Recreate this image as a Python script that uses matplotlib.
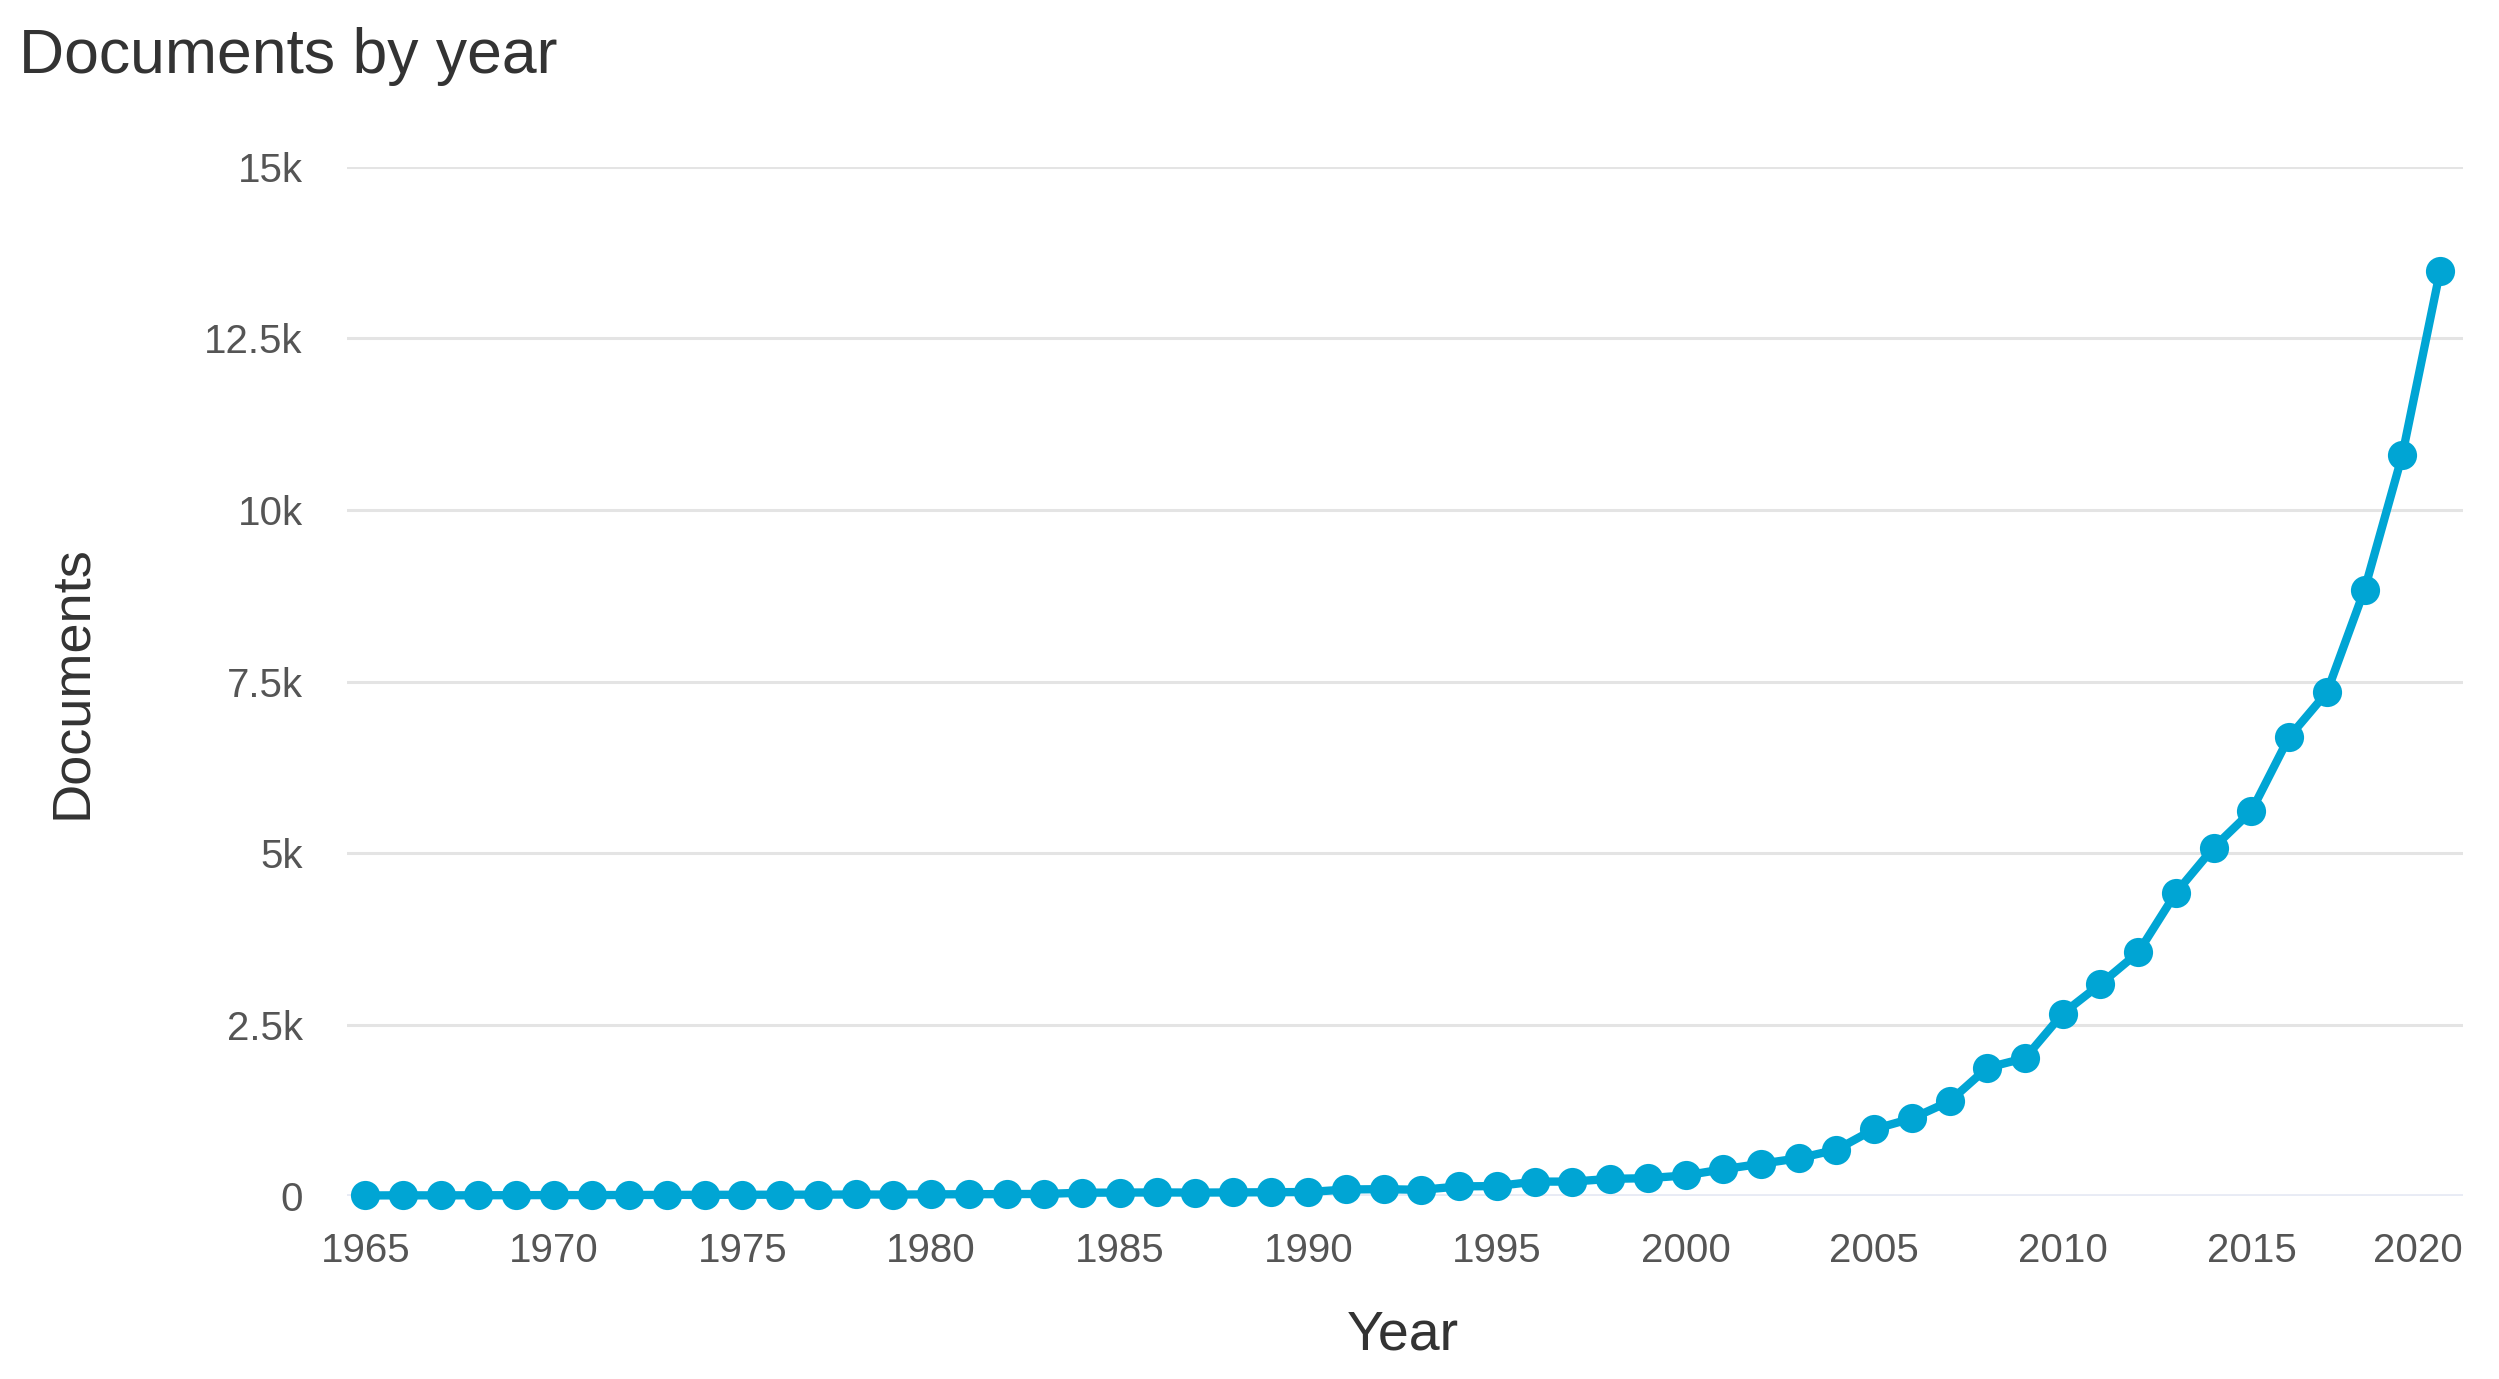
import numpy as np
import matplotlib
matplotlib.use('Agg')
from matplotlib import pyplot as plt
from matplotlib import transforms
from matplotlib import font_manager

## font: condensed face if there is one
names = set(f.name for f in font_manager.fontManager.ttflist)
fam = ['Liberation Sans Narrow', 'DejaVu Sans'] if 'Liberation Sans Narrow' in names else ['Liberation Sans', 'DejaVu Sans']
plt.rcParams['font.family'] = fam

years = list(range(1965, 2021))
documents = [8, 10, 9, 11, 12, 14, 13, 15, 16, 17,
             18, 19, 20, 22, 21, 24, 26, 28, 30, 48,
             50, 52, 50, 52, 55, 58, 95, 100, 90, 140,
             145, 210, 210, 250, 260, 300, 390, 470, 550, 675,
             975, 1130, 1380, 1870, 2010, 2660, 3090, 3550, 4420, 5080,
             5610, 6690, 7340, 8840, 10800, 13480]

y_ticks = [0, 2500, 5000, 7500, 10000, 12500, 15000]
y_tick_labels = ['0', '2.5k', '5k', '7.5k', '10k', '12.5k', '15k']
x_ticks = list(range(1965, 2021, 5))

line_col = '#00a5d4'
grid_col = '#e4e4e4'
dpii = 100

fig = plt.figure(figsize=(24.99, 13.79), dpi=dpii)
ax = fig.add_axes([0.1389, 0.1327, 0.9856 - 0.1389, 0.8789 - 0.1327])

for v in y_ticks[1:]:
    ax.axhline(v, color=grid_col, linewidth=2.2, zorder=1)
ax.axhline(0, color='#e8ebf5', linewidth=3.5, zorder=1)

ax.plot(years, documents, color=line_col, linewidth=6, marker='o',
        markersize=21, markeredgewidth=0, zorder=3, clip_on=False)

ax.set_xlim(1964.52, 2020.61)
ax.set_ylim(0, 15000)
ax.set_yticks(y_ticks)
ax.set_yticklabels(y_tick_labels)
ax.set_xticks(x_ticks)
ax.set_xticklabels([str(x) for x in x_ticks])

for s in ax.spines.values():
    s.set_visible(False)
ax.tick_params(axis='both', length=0, labelsize=29, labelcolor='#555555')
ax.tick_params(axis='y', pad=32)
ax.tick_params(axis='x', pad=26)

## last year label pushed inside the plot, like the original
lab = ax.get_xticklabels()[-1]
lab.set_horizontalalignment('right')
lab.set_transform(lab.get_transform() + transforms.ScaledTranslation(23 / dpii, 0, fig.dpi_scale_trans))

fig.text(1403 / 2499, 1 - 1336 / 1379, 'Year', fontsize=40, color='#333333',
         ha='center', va='center')
fig.text(72 / 2499, 1 - 682 / 1379, 'Documents', fontsize=39, color='#333333',
         ha='center', va='center', rotation=90)
fig.text(19 / 2499, 1 - 56 / 1379, 'Documents by year', fontsize=45, color='#333333',
         ha='left', va='center')

plt.savefig('out.png', dpi=dpii, facecolor='white')
